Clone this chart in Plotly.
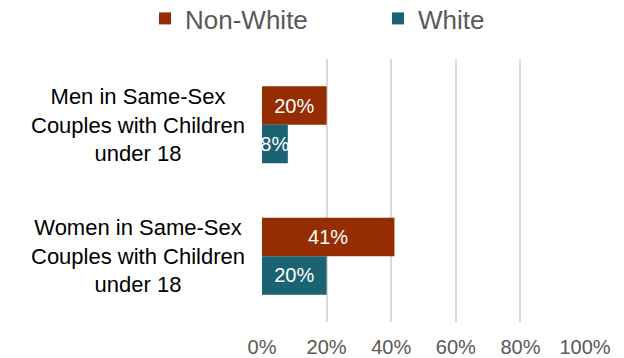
import plotly.graph_objects as go

categories = ["Men in Same-Sex<br>Couples with Children<br>under 18",
              "Women in Same-Sex<br>Couples with Children<br>under 18"]
non_white = [0.20, 0.41]
white = [0.08, 0.20]
tick_vals = [0, 0.2, 0.4, 0.6, 0.8, 1.0]
tick_text = ["0%", "20%", "40%", "60%", "80%", "100%"]

C_NW = "#962D02"
C_W = "#1B6272"
FONT = "Liberation Sans, Arial, sans-serif"

L, R, T, B = 262, 39, 59, 36
W, H = 624, 358
PW = W - L - R
PH = H - T - B

fig = go.Figure()
fig.add_trace(go.Bar(
    y=categories, x=non_white, name="Non-White", orientation="h",
    marker=dict(color=C_NW, line=dict(width=0)),
    text=[f"{v:.0%}" for v in non_white], textposition="inside",
    insidetextanchor="middle", constraintext="none", textangle=0,
    textfont=dict(color="white", size=20, family=FONT),
    legend="legend",
))
fig.add_trace(go.Bar(
    y=categories, x=white, name="White", orientation="h",
    marker=dict(color=C_W, line=dict(width=0)),
    text=[f"{v:.0%}" for v in white], textposition="inside",
    insidetextanchor="middle", constraintext="none", textangle=0,
    textfont=dict(color="white", size=20, family=FONT),
    legend="legend2",
))

for c in categories:
    fig.add_annotation(
        x=0, xref="paper", xanchor="right", xshift=-15,
        y=c, yref="y", yanchor="middle",
        text=c, showarrow=False, align="center",
        font=dict(size=22, color="#000000", family=FONT),
    )

leg_y = (H - B + 5) / PH
fig.update_layout(
    width=W, height=H,
    margin=dict(l=L, r=R, t=T, b=B, autoexpand=False),
    paper_bgcolor="white", plot_bgcolor="white",
    barmode="group", bargap=0.415, bargroupgap=0,
    font=dict(family=FONT, color="#595959"),
    showlegend=True,
    legend=dict(
        orientation="h", x=(145 - L) / PW, xanchor="left",
        y=leg_y, yanchor="top",
        font=dict(size=26, color="#595959", family=FONT),
        bgcolor="rgba(0,0,0,0)",
    ),
    legend2=dict(
        orientation="h", x=(378 - L) / PW, xanchor="left",
        y=leg_y, yanchor="top",
        font=dict(size=26, color="#595959", family=FONT),
        bgcolor="rgba(0,0,0,0)",
    ),
    xaxis=dict(
        range=[0, 1], tickvals=tick_vals, ticktext=tick_text,
        showgrid=True, gridcolor="#D9D9D9", gridwidth=2,
        zeroline=False, showline=False,
        ticks="outside", ticklen=7, tickcolor="rgba(0,0,0,0)",
        tickfont=dict(size=20, color="#595959", family=FONT),
        fixedrange=True, automargin=False,
    ),
    yaxis=dict(
        autorange="reversed", showticklabels=False, showgrid=False,
        zeroline=False, showline=False, fixedrange=True,
    ),
)

fig.write_html("out.html")
